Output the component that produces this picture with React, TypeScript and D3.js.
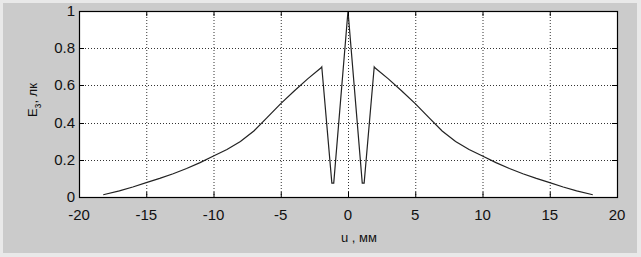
import React, { useEffect, useRef } from "react";
import * as d3 from "d3";

const uValues = [
  -18.2, -17, -16, -15, -14, -13, -12, -11, -10, -9, -8, -7, -6, -5, -4, -3, -2, -1.95,
  -1.2, -1.06, 0, 1.06, 1.2,
  1.95, 2, 3, 4, 5, 6, 7, 8, 9, 10, 11, 12, 13, 14, 15, 16, 17, 18.2,
];
const eValues = [
  0.012, 0.033, 0.054, 0.077, 0.1, 0.125, 0.153, 0.185, 0.22, 0.255, 0.298, 0.355, 0.428, 0.502, 0.57, 0.635, 0.695, 0.7,
  0.075, 0.075, 1.0, 0.075, 0.075,
  0.7, 0.695, 0.635, 0.57, 0.502, 0.428, 0.355, 0.298, 0.255, 0.22, 0.185, 0.153, 0.125, 0.1, 0.077, 0.054, 0.033, 0.012,
];
const xTicks = [-20, -15, -10, -5, 0, 5, 10, 15, 20];
const yTicks = [0, 0.2, 0.4, 0.6, 0.8, 1];
const yTickLabels = ["0", "0.2", "0.4", "0.6", "0.8", "1"];

const W = 641;
const H = 257;
const L = 79;
const R = 617;
const T = 11;
const B = 197;
const FONT = "'Liberation Sans', Arial, Helvetica, sans-serif";

export default function App() {
  const ref = useRef<SVGSVGElement>(null);
  useEffect(() => {
    const svg = d3.select(ref.current);
    svg.selectAll("*").remove();
    const x = d3.scaleLinear().domain([-20, 20]).range([L, R]);
    const y = d3.scaleLinear().domain([0, 1]).range([B, T]);

    svg.append("rect").attr("x", 0).attr("y", 0).attr("width", W).attr("height", H).attr("fill", "#e9e9e9");
    svg.append("rect").attr("x", 3).attr("y", 3).attr("width", W - 7).attr("height", H - 7).attr("fill", "#cbcbcb");

    svg.append("rect").attr("x", L).attr("y", T).attr("width", R - L).attr("height", B - T).attr("fill", "#ffffff");

    const g = svg.append("g");
    xTicks.slice(1, -1).forEach((t) => {
      g.append("line")
        .attr("x1", x(t) + 0.5).attr("x2", x(t) + 0.5)
        .attr("y1", T).attr("y2", B)
        .attr("stroke", "#333").attr("stroke-width", 1).attr("stroke-dasharray", "1,2");
    });
    yTicks.slice(1, -1).forEach((t) => {
      g.append("line")
        .attr("x1", L).attr("x2", R)
        .attr("y1", Math.round(y(t)) + 0.5).attr("y2", Math.round(y(t)) + 0.5)
        .attr("stroke", "#333").attr("stroke-width", 1).attr("stroke-dasharray", "1,2");
    });

    const pts: [number, number][] = uValues.map((u, i) => [u, eValues[i]]);
    const line = d3.line<[number, number]>().x((d) => x(d[0])).y((d) => y(d[1]));
    svg.append("path").attr("d", line(pts)!).attr("fill", "none").attr("stroke", "#222").attr("stroke-width", 1.2);

    const tk = svg.append("g").attr("stroke", "#000").attr("stroke-width", 1);
    xTicks.forEach((t) => {
      const xp = x(t) + 0.5;
      tk.append("line").attr("x1", xp).attr("x2", xp).attr("y1", B).attr("y2", B - 5);
      tk.append("line").attr("x1", xp).attr("x2", xp).attr("y1", T).attr("y2", T + 5);
    });
    yTicks.forEach((t) => {
      const yp = Math.round(y(t)) + 0.5;
      tk.append("line").attr("x1", L).attr("x2", L + 5).attr("y1", yp).attr("y2", yp);
      tk.append("line").attr("x1", R).attr("x2", R - 5).attr("y1", yp).attr("y2", yp);
    });

    svg.append("rect").attr("x", L + 0.5).attr("y", T + 0.5).attr("width", R - L).attr("height", B - T)
      .attr("fill", "none").attr("stroke", "#000").attr("stroke-width", 1.2);

    xTicks.forEach((t) => {
      svg.append("text").attr("x", x(t)).attr("y", 220).attr("text-anchor", "middle")
        .attr("font-family", FONT).attr("font-size", 15).attr("fill", "#111").text(String(t));
    });
    yTicks.forEach((t, i) => {
      svg.append("text").attr("x", 75).attr("y", y(t) + 5).attr("text-anchor", "end")
        .attr("font-family", FONT).attr("font-size", 15).attr("fill", "#111").text(yTickLabels[i]);
    });

    svg.append("text").attr("x", 359).attr("y", 242).attr("text-anchor", "middle")
      .attr("font-family", FONT).attr("font-size", 13).attr("fill", "#111").text("u , мм");

    const yl = svg.append("text").attr("transform", "translate(37,100) rotate(-90)").attr("text-anchor", "middle")
      .attr("font-family", FONT).attr("font-size", 13).attr("fill", "#111");
    yl.append("tspan").text("E");
    yl.append("tspan").attr("font-size", 10).attr("dy", 4).text("з");
    yl.append("tspan").attr("dy", -4).text(", лк");
  }, []);
  return <svg ref={ref} width={W} height={H} style={{ position: "absolute", left: 0, top: 0 }} />;
}
